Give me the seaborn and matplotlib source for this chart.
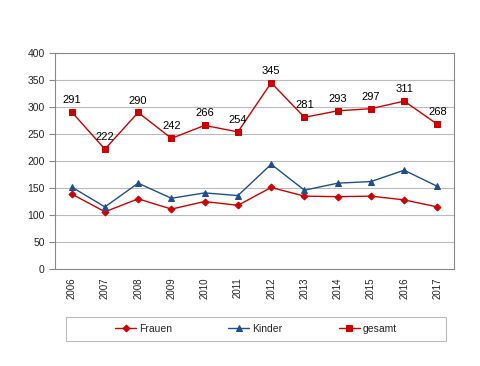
import matplotlib
matplotlib.use("Agg")
import matplotlib.pyplot as plt
import pandas as pd
import seaborn as sns
from matplotlib.patches import Rectangle

years = ["2006", "2007", "2008", "2009", "2010", "2011",
         "2012", "2013", "2014", "2015", "2016", "2017"]
frauen = [139, 106, 130, 111, 125, 118, 151, 135, 134, 135, 128, 115]
kinder = [152, 115, 159, 131, 141, 136, 194, 146, 159, 162, 183, 153]
gesamt = [291, 222, 290, 242, 266, 254, 345, 281, 293, 297, 311, 268]

series_names = ["Frauen", "Kinder", "gesamt"]
series_colors = {"Frauen": "#CC0000", "Kinder": "#1F4E8C", "gesamt": "#CC0000"}
series_markers = {"Frauen": "D", "Kinder": "^", "gesamt": "s"}
marker_sizes = {"Frauen": 3.5, "Kinder": 4.5, "gesamt": 5}


def main():
    sns.set_style("white")
    plt.rcParams["font.family"] = ["Liberation Sans", "DejaVu Sans"]

    df = pd.DataFrame({"Jahr": years, "Frauen": frauen, "Kinder": kinder, "gesamt": gesamt})
    long_df = df.melt(id_vars="Jahr", var_name="Reihe", value_name="Wert")
    long_df["pos"] = long_df["Jahr"].map({y: i for i, y in enumerate(years)})

    fig = plt.figure(figsize=(4.8, 3.66), dpi=100)
    ax = fig.add_axes([0.1146, 0.265, 0.8314, 0.59])

    for name in series_names:
        sub = long_df[long_df["Reihe"] == name]
        sns.lineplot(data=sub, x="pos", y="Wert", ax=ax, color=series_colors[name],
                     marker=series_markers[name], markersize=marker_sizes[name],
                     markeredgecolor=series_colors[name], linewidth=1.0, label=name)

    # data labels for gesamt
    for i, v in enumerate(gesamt):
        ax.annotate(str(v), (i, v), xytext=(0, 5), textcoords="offset points",
                    ha="center", va="bottom", fontsize=8, color="black")

    ax.set_xlim(-0.5, len(years) - 0.5)
    ax.set_ylim(0, 400)
    ax.set_yticks(range(0, 401, 50))
    ax.yaxis.grid(True, color="#BBBBBB", linewidth=0.8)
    ax.set_axisbelow(True)

    ax.set_xticks(range(len(years)))
    ax.set_xticklabels(years, rotation=90, fontsize=7)
    ax.set_xticks([i - 0.5 for i in range(len(years) + 1)], minor=True)
    ax.tick_params(axis="x", which="major", length=0, pad=6)
    ax.tick_params(axis="x", which="minor", length=4, color="#888888")
    ax.tick_params(axis="y", labelsize=7.5, length=4, color="#888888", left=True)

    for side in ax.spines.values():
        side.set_color("#888888")
        side.set_linewidth(0.8)

    ax.set_xlabel("")
    ax.set_ylabel("")

    # legend frame drawn separately so it keeps the wide box
    fig.patches.append(Rectangle((66 / 480, 25 / 366), 380 / 480, 24 / 366,
                                 transform=fig.transFigure, fill=False,
                                 edgecolor="#BBBBBB", linewidth=0.8))
    handles, labels = ax.get_legend_handles_labels()
    ax.legend(handles, labels, loc="center", bbox_to_anchor=(256 / 480, 37 / 366),
              bbox_transform=fig.transFigure, ncol=3, fontsize=7.5, frameon=False,
              handlelength=2.0, handletextpad=0.3, columnspacing=5.4)

    fig.savefig("out.png", dpi=100)


if __name__ == "__main__":
    main()
